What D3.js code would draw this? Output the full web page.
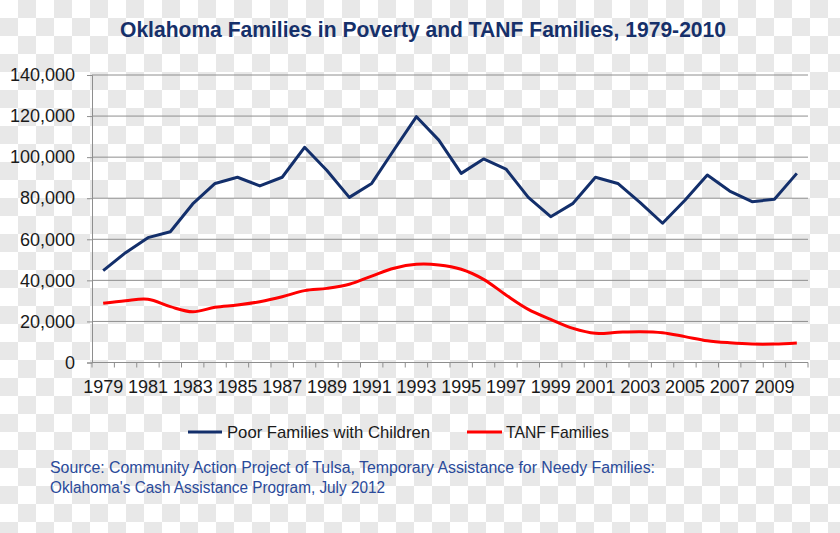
<!DOCTYPE html>
<html>
<head>
<meta charset="utf-8">
<script src="https://cdn.jsdelivr.net/npm/d3@7"></script>
<style>
  html, body { margin: 0; padding: 0; }
  body {
    width: 840px; height: 533px; overflow: hidden;
    background-color: #fff;
    background-image: conic-gradient(#e8e8e8 0 25%, #fff 0 50%, #e8e8e8 0 75%, #fff 0 100%);
    background-size: 36px 36px;
  }
  svg { display: block; }
</style>
</head>
<body>
<svg id="chart" width="840" height="533"></svg>
<script>
const years = d3.range(1979, 2011);
const poorFamilies = [44700, 53500, 60800, 63700, 77200, 87200, 90200, 86000, 90200, 104800,
  93500, 80400, 87200, 103600, 119700, 108300, 92100, 99100, 94200, 80400,
  71000, 77500, 90200, 87200, 77900, 67800, 79000, 91300, 83500, 78300, 79500, 92100];
const tanfFamilies = [28800, 30100, 30800, 27200, 24700, 26900, 28000, 29600, 32000, 35000,
  36100, 38100, 42100, 45900, 47800, 47500, 45400, 40500, 32900, 25900,
  21000, 16600, 14200, 14700, 15000, 14500, 12600, 10600, 9600, 9000, 9000, 9500];
const yTicks = [0, 20000, 40000, 60000, 80000, 100000, 120000, 140000];
const xLabelYears = years.filter((y, i) => i % 2 === 0);
const seriesNames = ["Poor Families with Children", "TANF Families"];
const titleText = "Oklahoma Families in Poverty and TANF Families, 1979-2010";
const sourceLines = ["Source: Community Action Project of Tulsa, Temporary Assistance for Needy Families:",
  "Oklahoma's Cash Assistance Program, July 2012"];

const navy = "#132f6b", red = "#ff0000", grid = "#8e8e8e";
const font = "'Liberation Sans', Arial, sans-serif";
const svg = d3.select("#chart");
const m = {left: 92, right: 808, top: 75, bottom: 362.5};

const x = d3.scaleBand().domain(years).range([m.left, m.right]);
const y = d3.scaleLinear().domain([0, 140000]).range([m.bottom, m.top]);

function fitText(sel, width) {
  const w = sel.node().getComputedTextLength();
  if (w > width) sel.attr("textLength", width).attr("lengthAdjust", "spacingAndGlyphs");
  else sel.attr("textLength", width).attr("lengthAdjust", "spacing");
}

// title
const title = svg.append("text").attr("x", 120).attr("y", 37)
  .attr("font-family", font).attr("font-weight", "bold").attr("font-size", 21.5)
  .attr("fill", "#16306a").text(titleText);
fitText(title, 606);

// y axis
const gy = svg.append("g").attr("transform", `translate(${m.left},0)`)
  .call(d3.axisLeft(y).tickValues(yTicks).tickSize(5).tickPadding(12).tickFormat(d3.format(",")));
gy.select(".domain").attr("stroke", grid);
gy.selectAll(".tick line").attr("stroke", grid);
gy.selectAll(".tick text").attr("font-family", font).attr("font-size", 18).attr("fill", "#1a1a1a");
svg.append("g").selectAll("line").data(yTicks.filter(d => d > 0)).join("line")
  .attr("x1", m.left).attr("x2", m.right).attr("y1", d => y(d)).attr("y2", d => y(d))
  .attr("stroke", grid).attr("stroke-width", 1);

// x axis with ticks between categories
const gx = svg.append("g").attr("transform", `translate(0,${m.bottom})`);
gx.append("line").attr("x1", m.left).attr("x2", m.right).attr("stroke", grid);
const boundaries = years.map(d => x(d)).concat([m.right]);
gx.selectAll("line.tk").data(boundaries).join("line").attr("class", "tk")
  .attr("x1", d => d).attr("x2", d => d).attr("y1", 0).attr("y2", 5).attr("stroke", grid);
gx.selectAll("text").data(xLabelYears).join("text")
  .attr("x", d => x(d) + x.bandwidth() / 2).attr("y", 30).attr("text-anchor", "middle")
  .attr("font-family", font).attr("font-size", 18).attr("fill", "#1a1a1a").text(d => d);

// lines
const cx = d => x(d) + x.bandwidth() / 2;
const linePoor = d3.line().x((d, i) => cx(years[i])).y(d => y(d));
const lineTanf = d3.line().x((d, i) => cx(years[i])).y(d => y(d)).curve(d3.curveCatmullRom);
svg.append("path").datum(poorFamilies).attr("d", linePoor).attr("fill", "none")
  .attr("stroke", navy).attr("stroke-width", 3).attr("stroke-linejoin", "round");
svg.append("path").datum(tanfFamilies).attr("d", lineTanf).attr("fill", "none")
  .attr("stroke", red).attr("stroke-width", 3).attr("stroke-linejoin", "round");

// legend
const legend = [
  {name: seriesNames[0], color: navy, x1: 188, x2: 222, tx: 227, w: 203},
  {name: seriesNames[1], color: red, x1: 467, x2: 502, tx: 506, w: 103}
];
legend.forEach(l => {
  svg.append("line").attr("x1", l.x1).attr("x2", l.x2).attr("y1", 432).attr("y2", 432)
    .attr("stroke", l.color).attr("stroke-width", 3);
  const t = svg.append("text").attr("x", l.tx).attr("y", 438).attr("font-family", font)
    .attr("font-size", 17).attr("fill", "#1a1a1a").text(l.name);
  fitText(t, l.w);
});

// source
const srcW = [605, 335];
sourceLines.forEach((s, i) => {
  const t = svg.append("text").attr("x", 50).attr("y", 473 + i * 19.5).attr("font-family", font)
    .attr("font-size", 16).attr("fill", "#2a4a9a").text(s);
  fitText(t, srcW[i]);
});
</script>
</body>
</html>
